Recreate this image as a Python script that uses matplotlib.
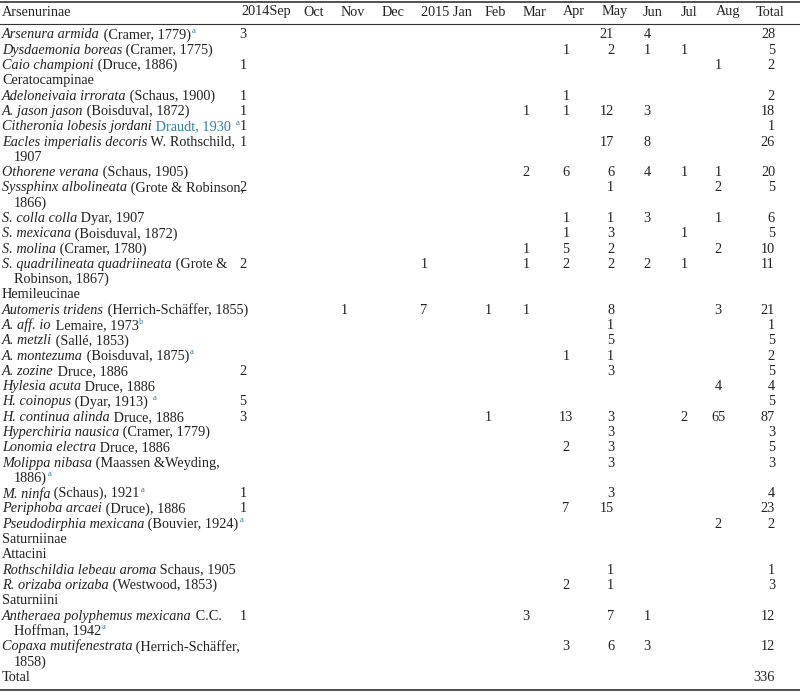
import matplotlib.pyplot as plt
from matplotlib import font_manager

names = {f.name for f in font_manager.fontManager.ttflist}
serif = [n for n in ["Liberation Serif", "Times New Roman", "Nimbus Roman", "DejaVu Serif"] if n in names]
plt.rcParams['font.family'] = serif

months = ["2014Sep", "Oct", "Nov", "Dec", "2015 Jan", "Feb", "Mar", "Apr",
          "May", "Jun", "Jul", "Aug", "Total"]
keys = ["Sep", "Oct", "Nov", "Dec", "Jan", "Feb", "Mar", "Apr",
        "May", "Jun", "Jul", "Aug", "Tot"]

# each row: (lines of (text, style) segments, counts)
# styles: i italic, r roman, s superscript, b blue roman
rows = [
    ([[("Arsenura armida", "i"), (" (Cramer, 1779)", "r"), ("a", "s")]], dict(Sep=3, May=21, Jun=4, Tot=28)),
    ([[("Dysdaemonia boreas", "i"), (" (Cramer, 1775)", "r")]], dict(Apr=1, May=2, Jun=1, Jul=1, Tot=5)),
    ([[("Caio championi", "i"), (" (Druce, 1886)", "r")]], dict(Sep=1, Aug=1, Tot=2)),
    ([[("Ceratocampinae", "r")]], {}),
    ([[("Adeloneivaia irrorata", "i"), (" (Schaus, 1900)", "r")]], dict(Sep=1, Apr=1, Tot=2)),
    ([[("A. jason jason", "i"), (" (Boisduval, 1872)", "r")]], dict(Sep=1, Mar=1, Apr=1, May=12, Jun=3, Tot=18)),
    ([[("Citheronia lobesis jordani", "i"), (" Draudt, 1930 ", "b"), ("a", "s")]], dict(Sep=1, Tot=1)),
    ([[("Eacles imperialis decoris", "i"), (" W. Rothschild,", "r")], [("1907", "r")]], dict(Sep=1, May=17, Jun=8, Tot=26)),
    ([[("Othorene verana", "i"), (" (Schaus, 1905)", "r")]], dict(Mar=2, Apr=6, May=6, Jun=4, Jul=1, Aug=1, Tot=20)),
    ([[("Syssphinx albolineata", "i"), (" (Grote & Robinson,", "r")], [("1866)", "r")]], dict(Sep=2, May=1, Aug=2, Tot=5)),
    ([[("S. colla colla", "i"), (" Dyar, 1907", "r")]], dict(Apr=1, May=1, Jun=3, Aug=1, Tot=6)),
    ([[("S. mexicana", "i"), (" (Boisduval, 1872)", "r")]], dict(Apr=1, May=3, Jul=1, Tot=5)),
    ([[("S. molina", "i"), (" (Cramer, 1780)", "r")]], dict(Mar=1, Apr=5, May=2, Aug=2, Tot=10)),
    ([[("S. quadrilineata quadriineata", "i"), (" (Grote &", "r")], [("Robinson, 1867)", "r")]],
     dict(Sep=2, Jan=1, Mar=1, Apr=2, May=2, Jun=2, Jul=1, Tot=11)),
    ([[("Hemileucinae", "r")]], {}),
    ([[("Automeris tridens", "i"), (" (Herrich-Schäffer, 1855)", "r")]], dict(Nov=1, Jan=7, Feb=1, Mar=1, May=8, Aug=3, Tot=21)),
    ([[("A. aff. io", "i"), (" Lemaire, 1973", "r"), ("b", "s")]], dict(May=1, Tot=1)),
    ([[("A. metzli", "i"), (" (Sallé, 1853)", "r")]], dict(May=5, Tot=5)),
    ([[("A. montezuma", "i"), (" (Boisduval, 1875)", "r"), ("a", "s")]], dict(Apr=1, May=1, Tot=2)),
    ([[("A. zozine", "i"), (" Druce, 1886", "r")]], dict(Sep=2, May=3, Tot=5)),
    ([[("Hylesia acuta", "i"), (" Druce, 1886", "r")]], dict(Aug=4, Tot=4)),
    ([[("H. coinopus", "i"), (" (Dyar, 1913) ", "r"), ("a", "s")]], dict(Sep=5, Tot=5)),
    ([[("H. continua alinda", "i"), (" Druce, 1886", "r")]], dict(Sep=3, Feb=1, Apr=13, May=3, Jul=2, Aug=65, Tot=87)),
    ([[("Hyperchiria nausica", "i"), (" (Cramer, 1779)", "r")]], dict(May=3, Tot=3)),
    ([[("Lonomia electra", "i"), (" Druce, 1886", "r")]], dict(Apr=2, May=3, Tot=5)),
    ([[("Molippa nibasa", "i"), (" (Maassen &Weyding,", "r")], [("1886)", "r"), ("a", "s")]], dict(May=3, Tot=3)),
    ([[("M. ninfa", "i"), (" (Schaus), 1921", "r"), ("a", "s")]], dict(Sep=1, May=3, Tot=4)),
    ([[("Periphoba arcaei", "i"), (" (Druce), 1886", "r")]], dict(Sep=1, Apr=7, May=15, Tot=23)),
    ([[("Pseudodirphia mexicana", "i"), (" (Bouvier, 1924)", "r"), ("a", "s")]], dict(Aug=2, Tot=2)),
    ([[("Saturniinae", "r")]], {}),
    ([[("Attacini", "r")]], {}),
    ([[("Rothschildia lebeau aroma", "i"), (" Schaus, 1905", "r")]], dict(May=1, Tot=1)),
    ([[("R. orizaba orizaba", "i"), (" (Westwood, 1853)", "r")]], dict(Apr=2, May=1, Tot=3)),
    ([[("Saturniini", "r")]], {}),
    ([[("Antheraea polyphemus mexicana", "i"), (" C.C.", "r")], [("Hoffman, 1942", "r"), ("a", "s")]],
     dict(Sep=1, Mar=3, May=7, Jun=1, Tot=12)),
    ([[("Copaxa mutifenestrata", "i"), (" (Herrich-Schäffer,", "r")], [("1858)", "r")]], dict(Apr=3, May=6, Jun=3, Tot=12)),
    ([[("Total", "r")]], dict(Tot=336)),
]

# layout (pixels)
head_x = [241, 303, 341, 382, 421, 485, 523, 563, 602, 643, 681, 716, 756]
val_x = [243, 312, 344, 385, 424, 488, 526, 566, 614, 647, 684, 718, 775]
val_ha = ["center"] * 8 + ["right", "center", "center", "center", "right"]
fs = 10.3
blue = "#2f7fa6"
ink = "#222222"

fig = plt.figure(figsize=(8, 6.92), dpi=100)
ax = fig.add_axes([0, 0, 1, 1])
ax.set_xlim(0, 800)
ax.set_ylim(692, 0)
ax.axis("off")
renderer = fig.canvas.get_renderer()

for yy, lw in [(1.5, 1.2), (24, 0.8), (690, 1.2)]:
    ax.plot([0, 800], [yy, yy], color="#333333", lw=lw)

ax.text(2, 12, "Arsenurinae", fontsize=fs, va="center", color=ink)
for m, x in zip(months, head_x):
    ax.text(x, 12, m, fontsize=fs, va="center", color=ink)


def draw_line(x, y, segs):
    for txt, st in segs:
        kw = dict(fontsize=fs, va="center", color=ink)
        if st == "i":
            kw["style"] = "italic"
        elif st == "b":
            kw["color"] = blue
        elif st == "s":
            kw.update(fontsize=fs * 0.6, color=blue)
            t = ax.text(x + 1, y - 4, txt, **kw)
            x += t.get_window_extent(renderer).width + 1
            continue
        t = ax.text(x, y, txt, **kw)
        x += t.get_window_extent(renderer).width


step = 15.29
line = 0
for lines, counts in rows:
    y = 35 + line * step
    for k, v in counts.items():
        i = keys.index(k)
        ax.text(val_x[i], y, str(v), fontsize=fs, va="center", ha=val_ha[i], color=ink)
    for j, segs in enumerate(lines):
        draw_line(2 if j == 0 else 14, 35 + (line + j) * step, segs)
    line += len(lines)

fig.savefig("out.png", dpi=100)
